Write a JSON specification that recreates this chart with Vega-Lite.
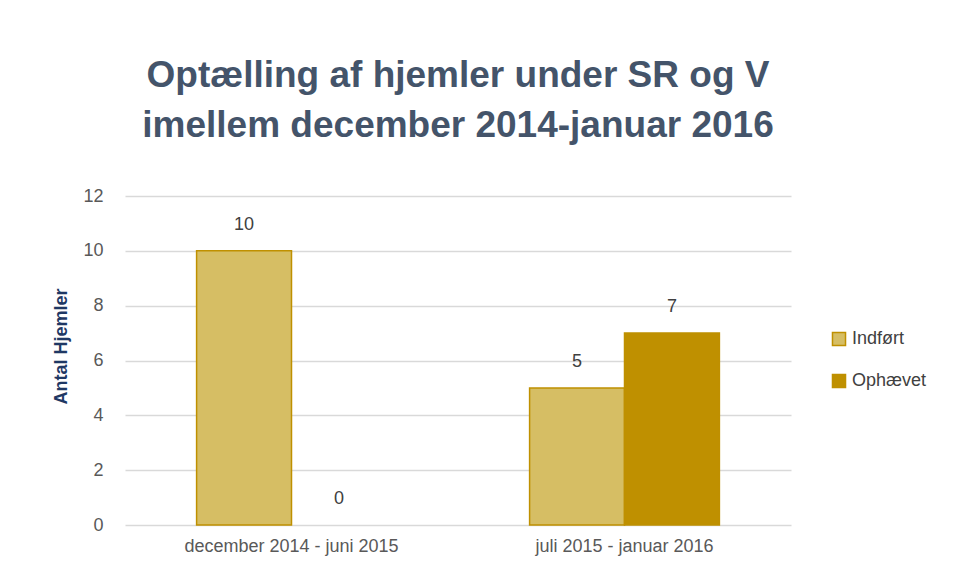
{
  "$schema": "https://vega.github.io/schema/vega-lite/v6.json",
  "width": 666,
  "height": 329,
  "autosize": "none",
  "padding": {"left": 125, "top": 196, "right": 162, "bottom": 54},
  "background": "white",
  "config": {
    "font": "Liberation Sans",
    "view": {"stroke": null}
  },
  "title": {
    "text": ["Optælling af hjemler under SR og V", "imellem december 2014-januar 2016"],
    "fontSize": 37,
    "fontWeight": "bold",
    "color": "#44546A",
    "lineHeight": 50,
    "offset": 42,
    "anchor": "middle"
  },
  "data": {
    "values": [
      {"Periode": "december 2014 - juni 2015", "Serie": "Indført", "Antal": 10},
      {"Periode": "december 2014 - juni 2015", "Serie": "Ophævet", "Antal": 0},
      {"Periode": "juli 2015 - januar 2016", "Serie": "Indført", "Antal": 5},
      {"Periode": "juli 2015 - januar 2016", "Serie": "Ophævet", "Antal": 7}
    ]
  },
  "encoding": {
    "x": {
      "field": "Periode",
      "type": "nominal",
      "sort": null,
      "scale": {"paddingInner": 0.43, "paddingOuter": 0.215},
      "axis": {
        "title": null,
        "labelAngle": 0,
        "labelFontSize": 18,
        "labelColor": "#595959",
        "labelPadding": 12,
        "labelLimit": 400,
        "ticks": false,
        "domain": false
      }
    },
    "xOffset": {"field": "Serie", "type": "nominal", "scale": {"domain": ["Indført", "Ophævet"]}},
    "y": {
      "field": "Antal",
      "type": "quantitative",
      "scale": {"domain": [0, 12]},
      "axis": {
        "title": "Antal Hjemler",
        "titleFontSize": 18,
        "titleFontWeight": "bold",
        "titleColor": "#1F3864",
        "titlePadding": 12,
        "titleY": 150,
        "values": [0, 2, 4, 6, 8, 10, 12],
        "labelFontSize": 18,
        "labelColor": "#595959",
        "labelPadding": 22,
        "ticks": false,
        "domain": false,
        "gridColor": "#D9D9D9",
        "gridWidth": 1.5
      }
    }
  },
  "layer": [
    {
      "transform": [{"filter": "datum.Antal > 0"}],
      "mark": {"type": "bar", "strokeWidth": 1.5},
      "encoding": {
        "fill": {
          "field": "Serie",
          "type": "nominal",
          "scale": {"domain": ["Indført", "Ophævet"], "range": ["#D6BE64", "#BF9000"]},
          "legend": {
            "title": null,
            "labelFontSize": 18,
            "labelColor": "#404040",
            "symbolType": "square",
            "symbolSize": 170,
            "symbolStrokeColor": "#BF9000",
            "symbolStrokeWidth": 1.5,
            "rowPadding": 22,
            "orient": "none",
            "legendX": 705,
            "legendY": 134
          }
        },
        "stroke": {
          "field": "Serie",
          "type": "nominal",
          "scale": {"domain": ["Indført", "Ophævet"], "range": ["#BF9000", "#BF9000"]},
          "legend": null
        }
      }
    },
    {
      "mark": {"type": "text", "dy": -26, "fontSize": 18, "color": "#404040"},
      "encoding": {
        "text": {"field": "Antal", "type": "quantitative"}
      }
    }
  ]
}
